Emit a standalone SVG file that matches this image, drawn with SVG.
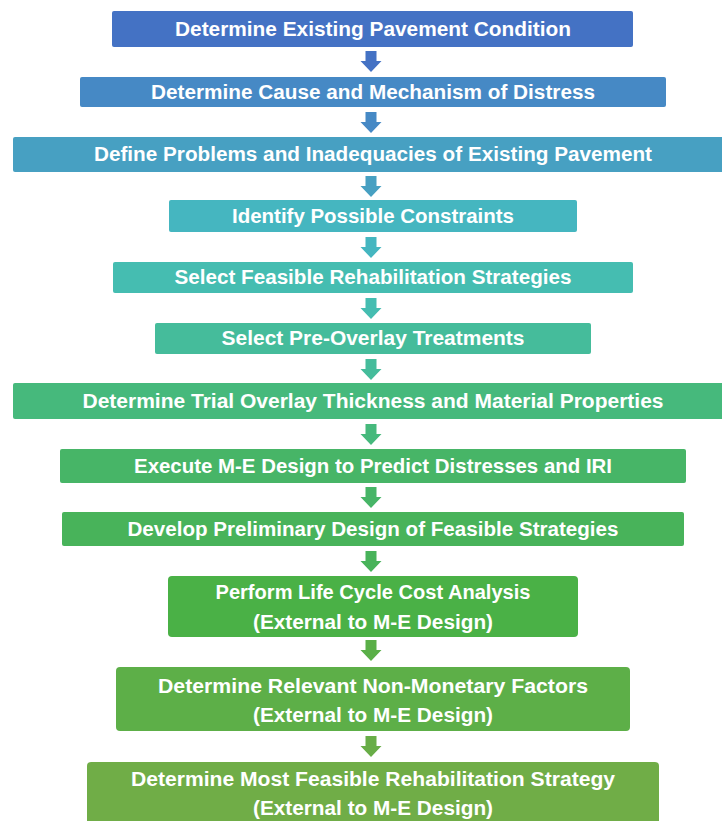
<svg xmlns="http://www.w3.org/2000/svg" width="722" height="821" viewBox="0 0 722 821">
<style>
.box{stroke:none}
.t{font-family:"Liberation Sans","Open Sans",Arial,sans-serif;font-weight:bold;font-size:20px;fill:#ffffff;text-anchor:middle}
</style>
<defs>
<path id="arr" d="M-5.5,0 H5.5 V10 H10.5 L0,21 L-10.5,10 H-5.5 Z"/>
</defs>
<rect width="722" height="821" fill="#ffffff"/>
<g id="connectors">
<use href="#arr" x="371" y="51" fill="#4472C4"/>
<use href="#arr" x="371" y="112" fill="#4689C5"/>
<use href="#arr" x="371" y="176" fill="#47A0C2"/>
<use href="#arr" x="371" y="237" fill="#45B6C0"/>
<use href="#arr" x="371" y="298" fill="#45BDB1"/>
<use href="#arr" x="371" y="359" fill="#45BC9B"/>
<use href="#arr" x="371" y="424" fill="#46B97C"/>
<use href="#arr" x="371" y="487" fill="#47B567"/>
<use href="#arr" x="371" y="551" fill="#48B35A"/>
<use href="#arr" x="371" y="640" fill="#5AAF48"/>
<use href="#arr" x="371" y="736" fill="#68AD47"/>
</g>
<g id="n1"><rect class="box" x="112" y="11" width="521" height="36" rx="2" fill="#4472C4"/><text class="t" x="373" y="36" textLength="396" lengthAdjust="spacingAndGlyphs">Determine Existing Pavement Condition</text></g>
<g id="n2"><rect class="box" x="80" y="77" width="586" height="30" rx="2" fill="#4689C5"/><text class="t" x="373" y="99" textLength="444" lengthAdjust="spacingAndGlyphs">Determine Cause and Mechanism of Distress</text></g>
<g id="n3"><rect class="box" x="13" y="137" width="720" height="35" rx="2" fill="#47A0C2"/><text class="t" x="373" y="161" textLength="558" lengthAdjust="spacingAndGlyphs">Define Problems and Inadequacies of Existing Pavement</text></g>
<g id="n4"><rect class="box" x="169" y="200" width="408" height="32" rx="2" fill="#45B6C0"/><text class="t" x="373" y="223" textLength="282" lengthAdjust="spacingAndGlyphs">Identify Possible Constraints</text></g>
<g id="n5"><rect class="box" x="113" y="262" width="520" height="31" rx="2" fill="#45BDB1"/><text class="t" x="373" y="284" textLength="397" lengthAdjust="spacingAndGlyphs">Select Feasible Rehabilitation Strategies</text></g>
<g id="n6"><rect class="box" x="155" y="323" width="436" height="31" rx="2" fill="#45BC9B"/><text class="t" x="373" y="345" textLength="303" lengthAdjust="spacingAndGlyphs">Select Pre-Overlay Treatments</text></g>
<g id="n7"><rect class="box" x="13" y="383" width="720" height="36" rx="2" fill="#46B97C"/><text class="t" x="373" y="408" textLength="581" lengthAdjust="spacingAndGlyphs">Determine Trial Overlay Thickness and Material Properties</text></g>
<g id="n8"><rect class="box" x="60" y="449" width="626" height="34" rx="2" fill="#47B567"/><text class="t" x="373" y="473" textLength="478" lengthAdjust="spacingAndGlyphs">Execute M-E Design to Predict Distresses and IRI</text></g>
<g id="n9"><rect class="box" x="62" y="512" width="622" height="34" rx="2" fill="#48B35A"/><text class="t" x="373" y="536" textLength="491" lengthAdjust="spacingAndGlyphs">Develop Preliminary Design of Feasible Strategies</text></g>
<g id="n10"><rect class="box" x="168" y="576" width="410" height="61" rx="4" fill="#4AB146"/><text class="t" x="373" y="599" textLength="315" lengthAdjust="spacingAndGlyphs">Perform Life Cycle Cost Analysis</text><text class="t" x="373" y="629" textLength="240" lengthAdjust="spacingAndGlyphs">(External to M-E Design)</text></g>
<g id="n11"><rect class="box" x="116" y="667" width="514" height="64" rx="4" fill="#5DAF48"/><text class="t" x="373" y="693" textLength="430" lengthAdjust="spacingAndGlyphs">Determine Relevant Non-Monetary Factors</text><text class="t" x="373" y="722" textLength="240" lengthAdjust="spacingAndGlyphs">(External to M-E Design)</text></g>
<g id="n12"><rect class="box" x="87" y="762" width="572" height="70" rx="4" fill="#70AD47"/><text class="t" x="373" y="786" textLength="484" lengthAdjust="spacingAndGlyphs">Determine Most Feasible Rehabilitation Strategy</text><text class="t" x="373" y="815" textLength="240" lengthAdjust="spacingAndGlyphs">(External to M-E Design)</text></g>
</svg>
